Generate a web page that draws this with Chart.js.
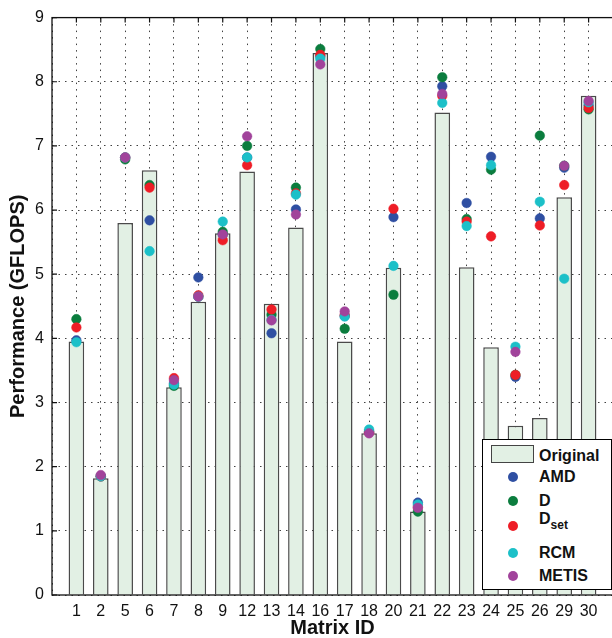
<!DOCTYPE html>
<html>
<head>
<meta charset="utf-8">
<script src="https://cdn.jsdelivr.net/npm/chart.js@4"></script>
<style>
  html, body { margin: 0; padding: 0; background: #fff; overflow: hidden; }
  #wrap { position: relative; width: 620px; height: 638px; }
  #legend { position: absolute; left: 482px; top: 439px; width: 128px; height: 149px;
    border: 1px solid #000; background: #fff; font-family: "Liberation Sans", Arial, sans-serif;
    font-weight: bold; font-size: 16px; color: #111; }
  #legend .row { position: absolute; left: 56px; height: 20px; line-height: 20px; white-space: nowrap; }
  #legend .dot { position: absolute; left: 25px; width: 10px; height: 10px; border-radius: 50%; }
  #legend .swatch { position: absolute; left: 8px; top: 5px; width: 41px; height: 16px;
    background: #e2f0e4; border: 1.5px solid #444; }
  #legend sub { font-size: 12px; vertical-align: -5px; }
</style>
</head>
<body>
<div id="wrap">
  <canvas id="perf_chart" width="620" height="638"></canvas>
  <div id="legend"></div>
</div>
<script>
var matrixIds = ['1','2','5','6','7','8','9','12','13','14','16','17','18','20','21','22','23','24','25','26','29','30'];
var original = [3.95,1.82,5.80,6.62,3.24,4.57,5.64,6.60,4.54,5.73,8.45,3.95,2.52,5.10,1.30,7.52,5.11,3.86,2.64,2.76,6.20,7.78];
var amd   = [3.97,1.85,6.82,5.84,3.30,4.95,5.62,6.82,4.08,6.01,8.40,4.35,2.55,5.89,1.44,7.93,6.11,6.83,3.40,5.87,6.66,7.63];
var d     = [4.30,1.85,6.79,6.39,3.26,4.65,5.66,7.00,4.37,6.35,8.51,4.15,2.54,4.68,1.30,8.07,5.86,6.63,3.43,7.16,6.69,7.57];
var dset  = [4.17,1.85,6.82,6.35,3.38,4.67,5.53,6.70,4.45,6.26,8.42,4.36,2.53,6.02,1.37,7.78,5.82,5.59,3.43,5.76,6.39,7.59];
var rcm   = [3.94,1.85,6.82,5.36,3.28,4.65,5.82,6.82,4.29,6.24,8.36,4.34,2.58,5.13,1.41,7.67,5.75,6.70,3.87,6.13,4.93,7.68];
var metis = [null,1.87,6.82,null,3.35,4.65,5.62,7.15,4.28,5.93,8.27,4.42,2.52,null,1.36,7.81,null,null,3.79,null,6.69,7.70];
var yTicks = [0,1,2,3,4,5,6,7,8,9];

var barFill = '#e2f0e4';
var colors = { amd: '#2f4fa2', d: '#0b7d3e', dset: '#ee1d26', rcm: '#1cc0c8', metis: '#a1439b' };

// one empty slot on each side, like xlim [0 23]
function pad(arr) { return [null].concat(arr, [null]); }
var labels = [''].concat(matrixIds, ['']);

function dots(label, values, color, order) {
  return {
    type: 'line', label: label, data: pad(values), showLine: false, order: order,
    pointRadius: 4.8, pointBackgroundColor: color, pointBorderColor: color, pointBorderWidth: 0.5
  };
}

var frame = {
  id: 'frame',
  afterDatasetsDraw: function(chart) {
    var a = chart.chartArea, ctx = chart.ctx;
    var x = chart.scales.x, y = chart.scales.y;
    ctx.save();
    ctx.strokeStyle = '#111';
    ctx.lineWidth = 1.2;
    ctx.beginPath();
    for (var i = 1; i < labels.length - 1; i++) {
      var px = x.getPixelForValue(i);
      ctx.moveTo(px, a.top); ctx.lineTo(px, a.top + 5);
    }
    yTicks.forEach(function(v) {
      var py = y.getPixelForValue(v);
      ctx.moveTo(a.left, py); ctx.lineTo(a.left + 5, py);
    });
    ctx.stroke();
    ctx.lineWidth = 1.3;
    ctx.strokeRect(a.left, a.top, a.right - a.left, a.bottom - a.top);
    ctx.restore();
  }
};

var font = 'Liberation Sans, Arial, sans-serif';
var dotted = { display: false, dash: [1.5, 5] };

new Chart(document.getElementById('perf_chart'), {
  type: 'bar',
  data: {
    labels: labels,
    datasets: [
      { label: 'Original', data: pad(original), backgroundColor: barFill, borderColor: '#4a4a4a',
        borderWidth: 1.5, barPercentage: 0.64, categoryPercentage: 1, order: 10 },
      dots('AMD', amd, colors.amd, 6),
      dots('D', d, colors.d, 5),
      dots('Dset', dset, colors.dset, 4),
      dots('RCM', rcm, colors.rcm, 3),
      dots('METIS', metis, colors.metis, 2)
    ]
  },
  options: {
    responsive: false,
    animation: false,
    devicePixelRatio: 1,
    layout: { padding: { top: 15, right: 3, left: 0, bottom: 0 } },
    plugins: { legend: { display: false }, tooltip: { enabled: false } },
    scales: {
      x: {
        type: 'category', offset: false,
        grid: { offset: false, color: 'rgba(0,0,0,0.75)', lineWidth: 1, drawTicks: false },
        border: dotted,
        ticks: { autoSkip: false, maxRotation: 0, color: '#111', padding: 7, font: { family: font, size: 16 } },
        title: { display: true, text: 'Matrix ID', color: '#111', padding: { top: 0, bottom: 0 },
          font: { family: font, size: 20, weight: 'bold', lineHeight: 1 } },
        afterFit: function(s) { s.height = 43; }
      },
      y: {
        min: 0, max: 9,
        grid: { color: 'rgba(0,0,0,0.75)', lineWidth: 1, drawTicks: false },
        border: dotted,
        ticks: { stepSize: 1, color: '#111', padding: 8, font: { family: font, size: 16 } },
        title: { display: true, text: 'Performance (GFLOPS)', color: '#111', padding: { top: 6, bottom: 0 },
          font: { family: font, size: 20, weight: 'bold' } },
        afterFit: function(s) { s.width = 52; }
      }
    }
  },
  plugins: [frame]
});

// legend drawn as html so D_set can keep its subscript
var legendRows = [
  { html: 'AMD', color: colors.amd, y: 37 },
  { html: 'D', color: colors.d, y: 61 },
  { html: 'D<sub>set</sub>', color: colors.dset, y: 86 },
  { html: 'RCM', color: colors.rcm, y: 113 },
  { html: 'METIS', color: colors.metis, y: 136 }
];
var legend = document.getElementById('legend');
var out = '<div class="swatch"></div><div class="row" style="top:6px">Original</div>';
legendRows.forEach(function(r) {
  var top = r.html.indexOf('sub') > 0 ? r.y - 17 : r.y - 10;
  out += '<div class="dot" style="top:' + (r.y - 5) + 'px;background:' + r.color + '"></div>';
  out += '<div class="row" style="top:' + top + 'px">' + r.html + '</div>';
});
legend.innerHTML = out;
</script>
</body>
</html>
